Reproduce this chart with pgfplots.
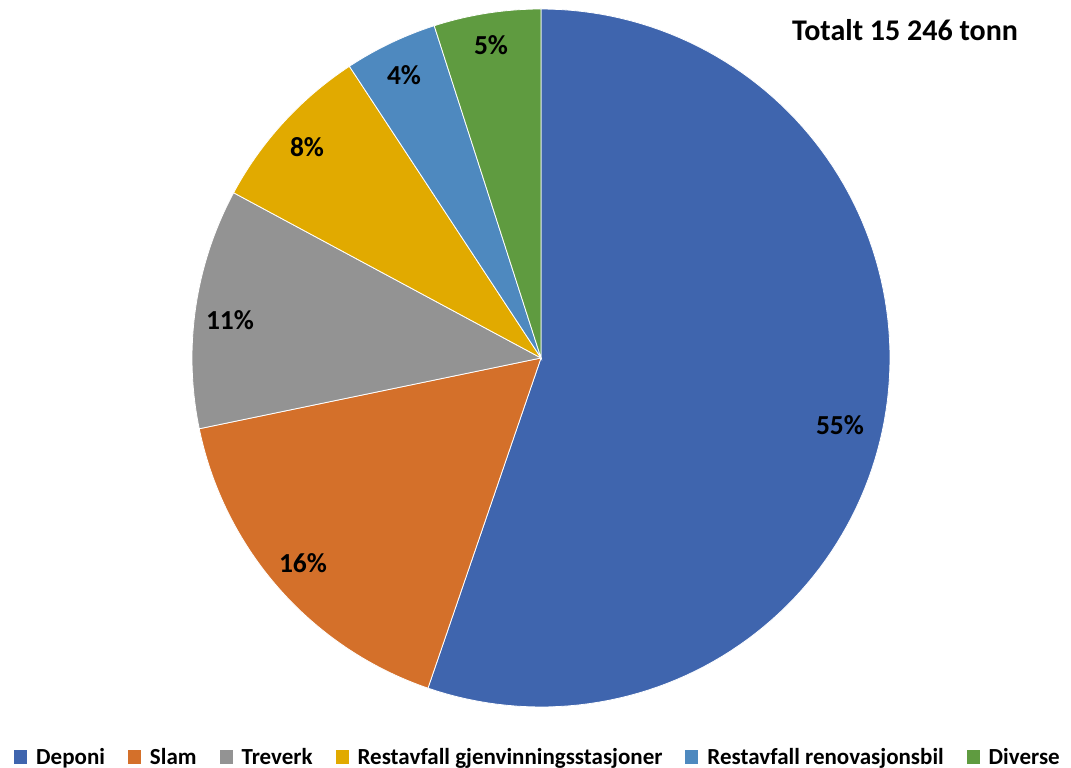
\documentclass[border=0pt]{standalone}
\usepackage{pgfplots}
\pgfplotsset{compat=1.18}
\usepackage{fontspec}
\setmainfont{Carlito}
\definecolor{cDep}{RGB}{63,101,174}
\definecolor{cSlam}{RGB}{212,112,42}
\definecolor{cTre}{RGB}{147,147,147}
\definecolor{cRgj}{RGB}{225,170,0}
\definecolor{cRren}{RGB}{78,137,191}
\definecolor{cDiv}{RGB}{95,155,64}
% shares (percent)
\def\vDep{55.25}\def\vSlam{16.5}\def\vTre{11.1}\def\vRgj{7.9}\def\vRren{4.3}\def\vDiv{4.95}
\pgfmathsetmacro\aA{90}
\pgfmathsetmacro\aB{\aA-3.6*\vDep}
\pgfmathsetmacro\aC{\aB-3.6*\vSlam}
\pgfmathsetmacro\aD{\aC-3.6*\vTre}
\pgfmathsetmacro\aE{\aD-3.6*\vRgj}
\pgfmathsetmacro\aF{\aE-3.6*\vRren}
\pgfmathsetmacro\aG{-270}
\newcommand\pieslice[3]{%
  \addplot[fill=#1, draw=white, line width=0.8pt, domain=#2:#3, samples=120, variable=\t]
    ({541+349*cos(\t)},{410+349*sin(\t)}) -- (axis cs:541,410) -- cycle;}
\begin{document}
\begin{tikzpicture}
\path (0,0) rectangle (1071bp,768bp);
\begin{axis}[at={(0,0)}, anchor=south west, scale only axis,
  width=1071bp, height=768bp, xmin=0, xmax=1071, ymin=0, ymax=768,
  hide axis, clip=false,
  legend columns=6,
  legend style={at={(axis cs:538,11)}, anchor=center, draw=none, fill=none,
    font=\fontsize{23bp}{25bp}\selectfont\bfseries,
    /tikz/every odd column/.append style={column sep=7bp},
    /tikz/every even column/.append style={column sep=21bp},
    inner sep=0pt},
  legend image code/.code={\fill[#1, draw=none] (0bp,-6.5bp) rectangle (13bp,6.5bp);},
]
\pieslice{cDep}{\aB}{\aA}
\addlegendentry{Deponi}
\pieslice{cSlam}{\aC}{\aB}
\addlegendentry{Slam}
\pieslice{cTre}{\aD}{\aC}
\addlegendentry{Treverk}
\pieslice{cRgj}{\aE}{\aD}
\addlegendentry{Restavfall gjenvinningsstasjoner}
\pieslice{cRren}{\aF}{\aE}
\addlegendentry{Restavfall renovasjonsbil}
\pieslice{cDiv}{\aG}{\aF}
\addlegendentry{Diverse}
\begin{scope}[every node/.style={font=\fontsize{27.5bp}{30bp}\selectfont\bfseries, inner sep=0pt}]
\node at (axis cs:840,343) {55\%};
\node at (axis cs:303,205) {16\%};
\node at (axis cs:230,448) {11\%};
\node at (axis cs:307,621) {8\%};
\node at (axis cs:404,693) {4\%};
\node at (axis cs:491,723) {5\%};
\node[font=\fontsize{30bp}{32bp}\selectfont\bfseries] at (axis cs:905,738) {Totalt 15 246 tonn};
\end{scope}
\end{axis}
\end{tikzpicture}
\end{document}
